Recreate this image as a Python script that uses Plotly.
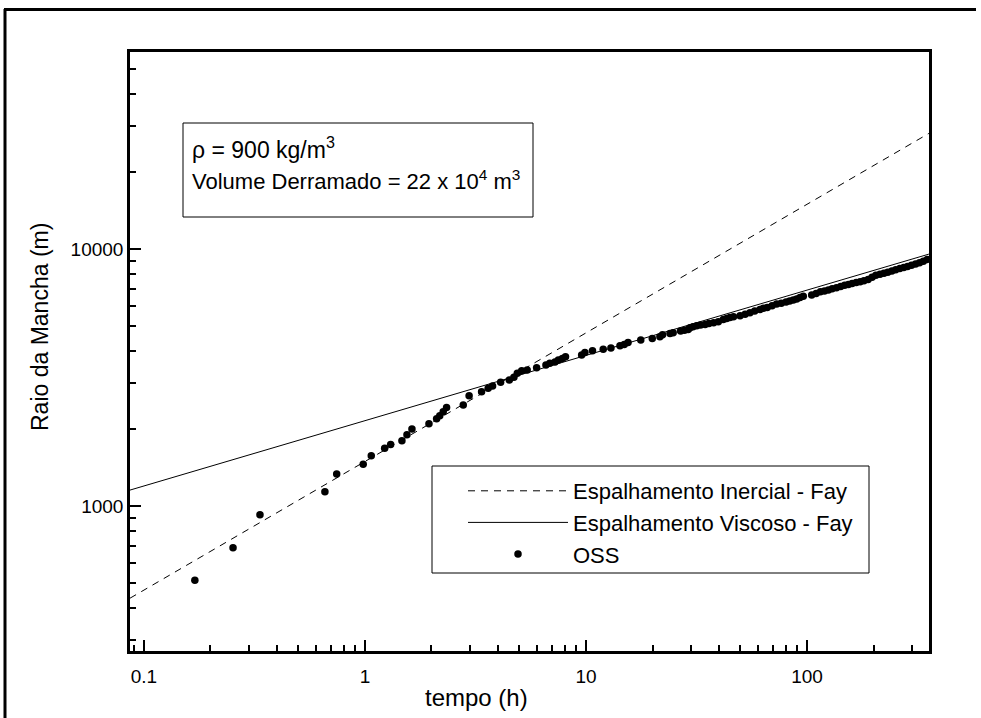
import plotly.graph_objects as go

# ---- data ----
oss_t = [0.170, 0.253, 0.335, 0.659, 0.745, 0.982, 1.068, 1.228, 1.307, 1.47,
         1.549, 1.632, 1.948, 2.11, 2.18, 2.26, 2.34, 2.785, 2.96, 3.37,
         3.61, 3.78, 4.11, 4.5, 4.72, 4.89, 5.12, 5.42, 5.98, 6.59,
         6.86, 7.24, 7.50, 7.82, 8.08, 9.56, 9.89, 10.7, 11.97, 12.97,
         14.25, 14.9, 15.5, 17.7, 19.95, 21.6, 22.2, 24.0, 24.8, 26.8,
         27.9, 29.0, 29.55, 30.5, 31.7, 33.0, 34.6, 36.0, 37.8, 39.7,
         41.8, 43.3, 44.8, 46.5, 49.8, 52.5, 55.2, 58.0, 61.3, 63.5,
         66.1, 69.5, 72.9, 76.5, 80.4, 83.5, 86.7, 89.8, 93.0, 96.2,
         105, 110, 115, 120, 125, 130, 136, 142, 148, 154,
         160, 167, 174, 181, 189, 197, 205, 214, 223, 232,
         242, 252, 263, 274, 285, 297, 310, 323, 336, 350]
oss_r = [514, 689, 925, 1137, 1333, 1453, 1570, 1677, 1738, 1795,
         1894, 1995, 2090, 2187, 2245, 2328, 2417, 2471, 2686, 2785,
         2871, 2930, 3030, 3092, 3169, 3284, 3362, 3381, 3453, 3537,
         3592, 3634, 3698, 3756, 3811, 3869, 3963, 4021, 4073, 4119,
         4205, 4255, 4335, 4425, 4493, 4558, 4640, 4699, 4722, 4797,
         4830, 4870, 4941, 4985, 5030, 5060, 5093, 5130, 5170, 5212,
         5327, 5375, 5423, 5460, 5504, 5580, 5650, 5740, 5826, 5880,
         5930, 6020, 6110, 6160, 6220, 6280, 6334, 6400, 6486, 6560,
         6622, 6714, 6823, 6871, 6934, 7015, 7079, 7145, 7228, 7278,
         7345, 7413, 7464, 7534, 7621, 7762, 7907, 7980, 8054, 8128,
         8222, 8318, 8395, 8472, 8551, 8650, 8750, 8851, 8974, 9120]

# Fay theoretical lines (end points read at the axis edges)
inercial_t = [0.0865, 356]
inercial_r = [438, 28200]
viscoso_t = [0.0865, 356]
viscoso_r = [1154, 9560]

x_major = [0.1, 1, 10, 100]
x_major_text = ["0.1", "1", "10", "100"]
x_minor = [0.09, 0.2, 0.3, 0.4, 0.5, 0.6, 0.7, 0.8, 0.9,
           2, 3, 4, 5, 6, 7, 8, 9, 20, 30, 40, 50, 60, 70, 80, 90, 200, 300]
y_major = [1000, 10000]
y_major_text = ["1000", "10000"]
y_minor = [300, 400, 500, 600, 700, 800, 900,
           2000, 3000, 4000, 5000, 6000, 7000, 8000, 9000,
           20000, 30000, 40000, 50000]

FONT = "Liberation Sans, Arial, sans-serif"

fig = go.Figure()
fig.add_trace(go.Scatter(x=inercial_t, y=inercial_r, mode="lines",
                         name="Espalhamento Inercial - Fay",
                         line=dict(color="black", width=1, dash="7px,6px")))
fig.add_trace(go.Scatter(x=viscoso_t, y=viscoso_r, mode="lines",
                         name="Espalhamento Viscoso - Fay",
                         line=dict(color="black", width=1)))
fig.add_trace(go.Scatter(x=oss_t, y=oss_r, mode="markers", name="OSS",
                         marker=dict(color="black", size=7.5)))

axis_common = dict(
    type="log", showgrid=False, zeroline=False,
    showline=True, linecolor="black", linewidth=2.5, mirror=True,
    ticks="inside", ticklen=11, tickwidth=1.5, tickcolor="black",
    tickfont=dict(family=FONT, size=19, color="black"),
)
fig.update_xaxes(**axis_common, range=[-1.063, 2.552],
                 tickmode="array", tickvals=x_major, ticktext=x_major_text,
                 ticklabelstandoff=6,
                 minor=dict(tickmode="array", tickvals=x_minor, ticks="inside",
                            ticklen=6, tickwidth=1.5, tickcolor="black"))
fig.update_yaxes(**axis_common, range=[2.436, 4.767],
                 tickmode="array", tickvals=y_major, ticktext=y_major_text,
                 minor=dict(tickmode="array", tickvals=y_minor, ticks="inside",
                            ticklen=6, tickwidth=1.5, tickcolor="black"))

W, H = 981, 718
L, R, T, B = 130, 52, 52, 67
pw, ph = W - L - R, H - T - B


def px(x):
    return (x - L) / pw


def py(y):
    return 1 - (y - T) / ph


fig.update_layout(
    width=W, height=H,
    margin=dict(l=L, r=R, t=T, b=B),
    paper_bgcolor="white", plot_bgcolor="white",
    font=dict(family=FONT, color="black"),
    showlegend=True,
    legend=dict(x=px(463), y=py(470), xanchor="left", yanchor="top",
                borderwidth=0, bgcolor="rgba(0,0,0,0)",
                font=dict(family=FONT, size=22, color="black"),
                itemwidth=100, tracegroupgap=0),
    shapes=[
        # outer frame: left edge
        dict(type="line", xref="paper", yref="paper",
             x0=px(5), x1=px(5), y0=py(9), y1=py(718),
             line=dict(color="black", width=3)),
        dict(type="rect", xref="paper", yref="paper",
             x0=px(183), x1=px(533), y0=py(217), y1=py(123),
             line=dict(color="black", width=1), fillcolor="white"),
        dict(type="rect", xref="paper", yref="paper",
             x0=px(432), x1=px(869), y0=py(573), y1=py(466),
             line=dict(color="black", width=1), fillcolor="white"),
    ],
    annotations=[
        # outer frame: top edge drawn as a thin filled annotation band
        dict(text="", xref="paper", yref="paper", x=px(3.5), y=py(7.5),
             xanchor="left", yanchor="top", showarrow=False,
             width=970, height=1, bgcolor="black", borderwidth=0, borderpad=1),
        dict(text="tempo (h)", xref="paper", yref="paper", x=px(476), y=py(697),
             xanchor="center", yanchor="middle", showarrow=False,
             font=dict(family=FONT, size=24, color="black")),
        dict(text="Raio da Mancha (m)", xref="paper", yref="paper", x=px(40), y=py(327),
             xanchor="center", yanchor="middle", textangle=-90, showarrow=False,
             font=dict(family=FONT, size=23, color="black")),
        dict(text="\u03c1 = 900 kg/m<sup>3</sup>", xref="paper", yref="paper",
             x=px(190), y=py(165), xanchor="left", yanchor="bottom", showarrow=False,
             font=dict(family=FONT, size=23, color="black")),
        dict(text="Volume Derramado = 22 x 10<sup>4</sup> m<sup>3</sup>", xref="paper", yref="paper",
             x=px(190), y=py(196), xanchor="left", yanchor="bottom", showarrow=False,
             font=dict(family=FONT, size=22, color="black")),
    ],
)

fig.write_html("out.html")
